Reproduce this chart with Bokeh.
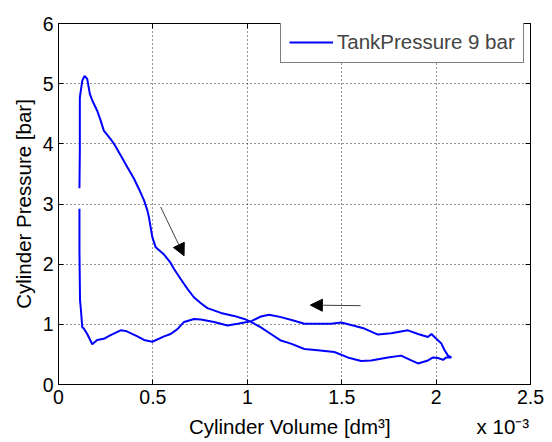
from bokeh.plotting import figure
from bokeh.models import (FixedTicker, LinearAxis, Range1d, Arrow, NormalHead, Legend, LegendItem)
from bokeh.embed import file_html
from bokeh.resources import INLINE

# Cylinder volume (x 10^-3 dm^3) and cylinder pressure (bar)
volume = [0.111, 0.113, 0.113, 0.126, 0.138, 0.152, 0.166, 0.179, 0.205, 0.223,
          0.240, 0.276, 0.294, 0.329, 0.365, 0.400, 0.426, 0.453, 0.471, 0.479,
          0.497, 0.515, 0.559, 0.594, 0.612, 0.648, 0.683, 0.717, 0.754, 0.789,
          0.860, 0.930, 0.984, 1.019, 1.072, 1.125, 1.178, 1.231, 1.302, 1.373,
          1.461, 1.532, 1.603, 1.656, 1.745, 1.815, 1.868, 1.904, 1.957, 1.984,
          2.010, 2.037, 2.054, 2.081,
          2.063, 2.045, 2.028, 2.001, 1.975, 1.957, 1.904, 1.851, 1.762, 1.692,
          1.620, 1.550, 1.497, 1.444, 1.373, 1.302, 1.249, 1.178, 1.116, 1.072,
          1.019, 0.949, 0.895, 0.824, 0.754, 0.718, 0.665, 0.630, 0.594, 0.559,
          0.497, 0.453, 0.418, 0.356, 0.329, 0.276, 0.240, 0.205, 0.179, 0.152,
          0.134, 0.126, 0.119, 0.114, 0.111, 0.111]
pressure = [3.26, 3.89, 4.77, 5.05, 5.13, 5.08, 4.83, 4.72, 4.55, 4.39,
            4.22, 4.08, 4.00, 3.81, 3.61, 3.42, 3.25, 3.06, 2.89, 2.78,
            2.45, 2.28, 2.16, 2.02, 1.92, 1.75, 1.59, 1.45, 1.35, 1.27,
            1.19, 1.14, 1.09, 1.04, 0.95, 0.84, 0.73, 0.68, 0.59, 0.57,
            0.54, 0.45, 0.39, 0.40, 0.45, 0.48, 0.40, 0.35, 0.40, 0.45,
            0.44, 0.41, 0.45, 0.45,
            0.48, 0.57, 0.68, 0.76, 0.84, 0.79, 0.84, 0.90, 0.85, 0.83,
            0.93, 0.99, 1.03, 1.01, 1.01, 1.01, 1.06, 1.12, 1.16, 1.13,
            1.05, 1.01, 0.98, 1.04, 1.08, 1.09, 1.04, 0.92, 0.84, 0.80,
            0.71, 0.74, 0.80, 0.89, 0.90, 0.82, 0.76, 0.74, 0.67, 0.84,
            0.93, 0.95, 1.23, 1.40, 2.23, 2.92]

series_name = "TankPressure 9 bar"
x_title = "Cylinder Volume [dm³]"
y_title = "Cylinder Pressure [bar]"
x_multiplier = "x 10⁻³"

x_ticks = [0, 0.5, 1, 1.5, 2, 2.5]
x_tick_labels = ["0", "0.5", "1", "1.5", "2", "2.5"]
y_ticks = [0, 1, 2, 3, 4, 5, 6]
y_tick_labels = ["0", "1", "2", "3", "4", "5", "6"]

# annotation arrows: (x_start, y_start, x_end, y_end)
arrow_expansion = (0.541, 2.95, 0.665, 2.14)
arrow_compression = (1.600, 1.31, 1.334, 1.32)

FONT = "Liberation Sans"
X0, X1 = x_ticks[0], x_ticks[-1]

p = figure(width=552, height=442, output_backend="svg", toolbar_location=None,
           x_range=Range1d(X0, X1), y_range=Range1d(y_ticks[0], y_ticks[-1]),
           min_border_left=58, min_border_right=22, min_border_top=23, min_border_bottom=58,
           background_fill_color="white", border_fill_color="white")

r = p.line(volume, pressure, line_color="#0000ff", line_width=2)

for ax, ticks, labels in ((p.xaxis[0], x_ticks, x_tick_labels), (p.yaxis[0], y_ticks, y_tick_labels)):
    ax.ticker = FixedTicker(ticks=ticks)
    ax.major_label_overrides = {t: l for t, l in zip(ticks, labels)}
    ax.major_label_text_font = FONT
    ax.major_label_text_font_size = "19.5px"
    ax.major_label_text_color = "black"
    ax.axis_label_text_font = FONT
    ax.axis_label_text_font_size = "20.5px"
    ax.axis_label_text_font_style = "normal"
    ax.axis_label_text_color = "black"
    ax.major_tick_in = 5
    ax.major_tick_out = 0
    ax.minor_tick_in = 0
    ax.minor_tick_out = 0
    ax.axis_line_color = "black"
    ax.major_tick_line_color = "black"
    ax.major_label_standoff = 5

p.yaxis.axis_label = y_title
p.yaxis.axis_label_standoff = 5

# second row under the x axis: axis title (centred) and the x 10^-3 multiplier (right)
title_pos = (X0 + X1) / 2 - 0.01 * (X1 - X0)
mult_pos = X1 - 0.0585 * (X1 - X0)
x_title_axis = LinearAxis(ticker=FixedTicker(ticks=[title_pos, mult_pos]),
                          major_label_overrides={title_pos: x_title, mult_pos: x_multiplier},
                          major_label_text_font=FONT, major_label_text_font_size="20.5px",
                          major_label_text_color="black", major_label_standoff=8,
                          axis_line_color=None, major_tick_line_color=None,
                          minor_tick_line_color=None, major_tick_in=0, major_tick_out=0,
                          minor_tick_in=0, minor_tick_out=0)
p.add_layout(x_title_axis, "below")

for loc, ticks in (("above", x_ticks), ("right", y_ticks)):
    a = LinearAxis(ticker=FixedTicker(ticks=ticks),
                   major_label_overrides={t: "" for t in ticks},
                   major_label_text_font_size="1px",
                   major_label_standoff=0, major_tick_in=5, major_tick_out=0,
                   minor_tick_in=0, minor_tick_out=0, axis_line_color="black",
                   major_tick_line_color="black")
    p.add_layout(a, loc)

p.xgrid.ticker = FixedTicker(ticks=x_ticks)
p.ygrid.ticker = FixedTicker(ticks=y_ticks)
p.grid.grid_line_color = "black"
p.grid.grid_line_dash = "1 3"
p.grid.grid_line_alpha = 0.85
p.outline_line_color = "black"

for (xs, ys, xe, ye) in (arrow_expansion, arrow_compression):
    p.add_layout(Arrow(end=NormalHead(size=12, fill_color="black", line_color="black"),
                       x_start=xs, y_start=ys, x_end=xe, y_end=ye,
                       line_color="#404040", line_width=1))

legend = Legend(items=[LegendItem(label=series_name, renderers=[r])], location=(222, 321),
                label_text_font=FONT, label_text_font_size="20.5px", glyph_width=44,
                glyph_height=16, label_height=16, label_standoff=4, padding=8, margin=0,
                spacing=0, border_line_color="black", border_line_width=1,
                background_fill_alpha=1)
p.add_layout(legend)

open("out.html", "w").write(file_html(p, INLINE))
